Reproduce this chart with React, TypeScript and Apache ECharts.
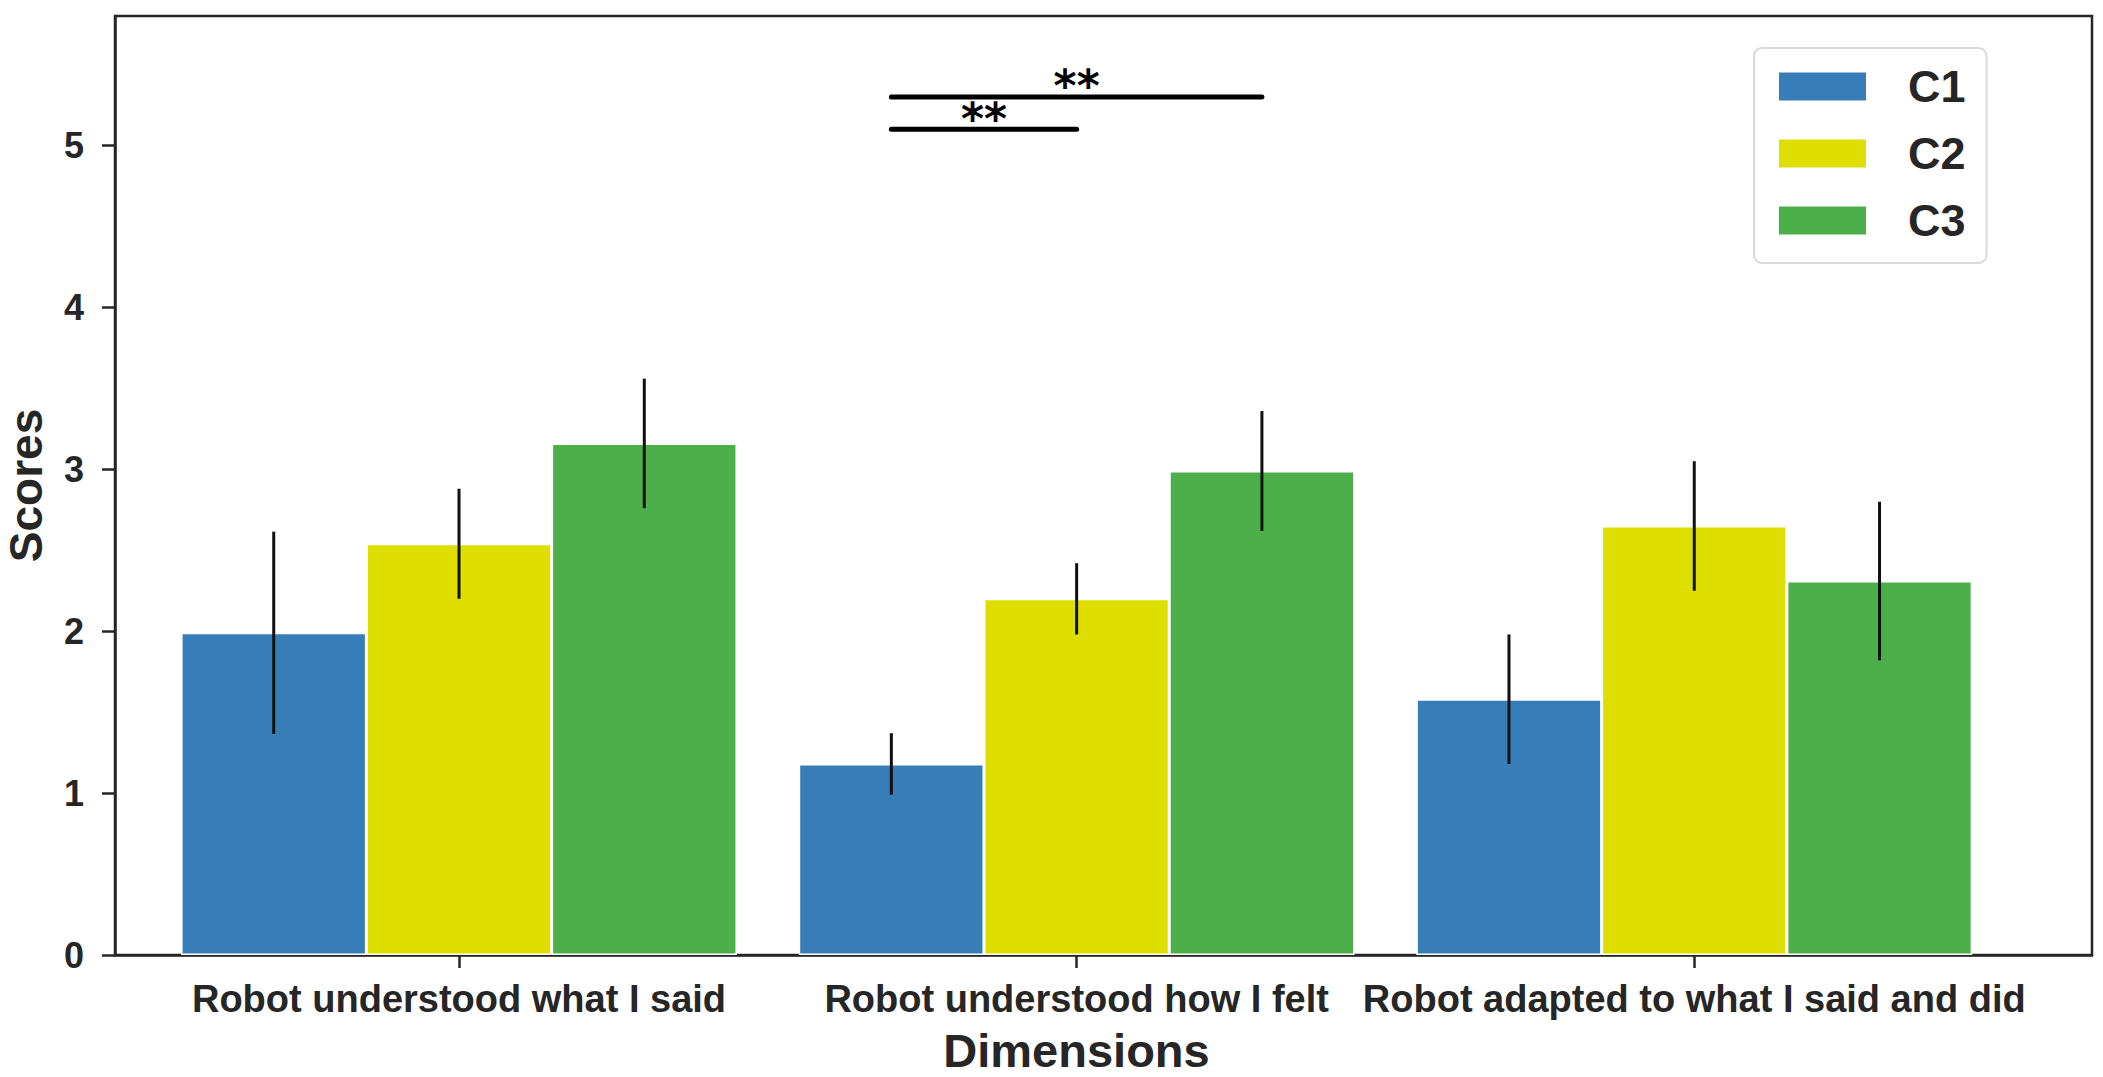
import React, { useEffect, useRef } from 'react';
import * as echarts from 'echarts';

// ---- data ----
const categories = [
  'Robot understood what I said',
  'Robot understood how I felt',
  'Robot adapted to what I said and did',
];
const conditions = ['C1', 'C2', 'C3'];
const c1Means = [1.99, 1.18, 1.58];
const c2Means = [2.54, 2.2, 2.65];
const c3Means = [3.16, 2.99, 2.31];
const c1Errors = [0.625, 0.19, 0.4];
const c2Errors = [0.34, 0.22, 0.4];
const c3Errors = [0.4, 0.37, 0.49];
const yTickValues = [0, 1, 2, 3, 4, 5];
const xTickValues = [0, 1, 2];
// significance brackets: [category index, from condition, to condition, level]
const bracketCategory = [1, 1];
const bracketFrom = [0, 0];
const bracketTo = [1, 2];
const bracketLevel = [5.1, 5.3];
const bracketLabels = ['**', '**'];

const colors = ['#377eb8', '#dede00', '#4daf4a'];
const barOffsets = [-0.3, 0, 0.3];
const TEXT = '#262626';
const FONT = '"Liberation Sans", Arial, sans-serif';

export default function App() {
  const ref = useRef<HTMLDivElement>(null);
  useEffect(() => {
    if (!ref.current) return;
    const chart = echarts.init(ref.current, undefined, { renderer: 'svg' });
    const means = [c1Means, c2Means, c3Means];
    const errors = [c1Errors, c2Errors, c3Errors];

    const barSeries = conditions.map((name, c) => ({
      name,
      type: 'bar',
      barWidth: '30%',
      barGap: '0%',
      itemStyle: { color: colors[c], borderColor: '#ffffff', borderWidth: 1.5 },
      data: means[c].map((v, i) => [i, v]),
      z: 2,
    }));

    const errData: number[][] = [];
    conditions.forEach((_, c) => {
      means[c].forEach((v, i) => errData.push([i, c, v, errors[c][i]]));
    });

    const bracketData = bracketCategory.map((cat, k) => [cat, bracketFrom[k], bracketTo[k], bracketLevel[k], k]);

    const option: any = {
      animation: false,
      backgroundColor: '#ffffff',
      textStyle: { fontFamily: FONT },
      grid: {
        left: 115,
        right: 11,
        top: 16,
        bottom: 122,
        containLabel: false,
        outerBoundsMode: 'none',
        show: true,
        borderColor: TEXT,
        borderWidth: 2.5,
        backgroundColor: 'transparent',
      },
      legend: {
        orient: 'vertical',
        left: 1754,
        top: 48,
        icon: 'rect',
        itemWidth: 89,
        itemHeight: 30,
        itemGap: 22,
        padding: [16, 21, 20, 23],
        borderColor: '#d9d9d9',
        borderWidth: 2,
        borderRadius: 8,
        backgroundColor: '#ffffff',
        textStyle: {
          fontFamily: FONT,
          fontWeight: 'bold',
          fontSize: 45,
          lineHeight: 45,
          color: TEXT,
          padding: [0, 0, 0, 36],
        },
        data: conditions,
      },
      xAxis: {
        type: 'value',
        min: -0.557,
        max: 2.644,
        name: 'Dimensions',
        nameLocation: 'middle',
        nameGap: 72,
        nameTextStyle: {
          fontFamily: FONT,
          fontWeight: 'bold',
          fontSize: 47,
          color: TEXT,
          padding: [0, 54, 0, 0],
        },
        axisLine: { show: true, onZero: false, lineStyle: { color: TEXT, width: 2.5 } },
        axisTick: { show: true, length: 13, lineStyle: { color: TEXT, width: 2.5 }, customValues: xTickValues },
        axisLabel: {
          customValues: xTickValues,
          formatter: (v: number) => categories[Math.round(v)] ?? '',
          fontFamily: FONT,
          fontWeight: 'bold',
          fontSize: 38,
          color: TEXT,
          margin: 25,
        },
        splitLine: { show: false },
      },
      yAxis: {
        type: 'value',
        min: 0,
        max: 5.8,
        name: 'Scores',
        nameLocation: 'middle',
        nameGap: 66,
        nameTextStyle: { fontFamily: FONT, fontWeight: 'bold', fontSize: 46, lineHeight: 46, color: TEXT },
        axisLine: { show: true, onZero: false, lineStyle: { color: TEXT, width: 2.5 } },
        axisTick: { show: true, length: 13, lineStyle: { color: TEXT, width: 2.5 }, customValues: yTickValues },
        axisLabel: {
          customValues: yTickValues,
          fontFamily: FONT,
          fontWeight: 'bold',
          fontSize: 36,
          color: TEXT,
          margin: 31,
        },
        splitLine: { show: false },
      },
      series: [
        ...barSeries,
        {
          type: 'custom',
          name: 'errors',
          z: 5,
          encode: { x: 0, y: 2 },
          data: errData,
          renderItem: (params: any, api: any) => {
            const x = api.value(0) + barOffsets[api.value(1)];
            const m = api.value(2);
            const e = api.value(3);
            const lo = api.coord([x, m - e]);
            const hi = api.coord([x, m + e]);
            return {
              type: 'line',
              shape: { x1: lo[0], y1: lo[1], x2: hi[0], y2: hi[1] },
              style: { stroke: '#111111', lineWidth: 3 },
            };
          },
        },
        {
          type: 'custom',
          name: 'significance',
          z: 6,
          encode: { x: 0, y: 3 },
          data: bracketData,
          renderItem: (params: any, api: any) => {
            const cat = api.value(0);
            const x1 = cat + barOffsets[api.value(1)];
            const x2 = cat + barOffsets[api.value(2)];
            const lvl = api.value(3);
            const k = api.value(4);
            const p1 = api.coord([x1, lvl]);
            const p2 = api.coord([x2, lvl]);
            return {
              type: 'group',
              children: [
                {
                  type: 'line',
                  shape: { x1: p1[0], y1: p1[1], x2: p2[0], y2: p2[1] },
                  style: { stroke: '#000000', lineWidth: 5, lineCap: 'round' },
                },
                {
                  type: 'text',
                  x: (p1[0] + p2[0]) / 2,
                  y: p1[1] - 11,
                  style: {
                    text: bracketLabels[k],
                    fontFamily: '"DejaVu Sans", sans-serif',
                    fontWeight: 'bold',
                    fontSize: 44,
                    fill: '#000000',
                    align: 'center',
                    verticalAlign: 'middle',
                  },
                },
              ],
            };
          },
        },
      ],
    };
    chart.setOption(option);
    return () => chart.dispose();
  }, []);
  return (
    <div
      ref={ref}
      style={{ position: 'absolute', left: 0, top: 0, width: 2103, height: 1077, background: '#fff' }}
    />
  );
}
